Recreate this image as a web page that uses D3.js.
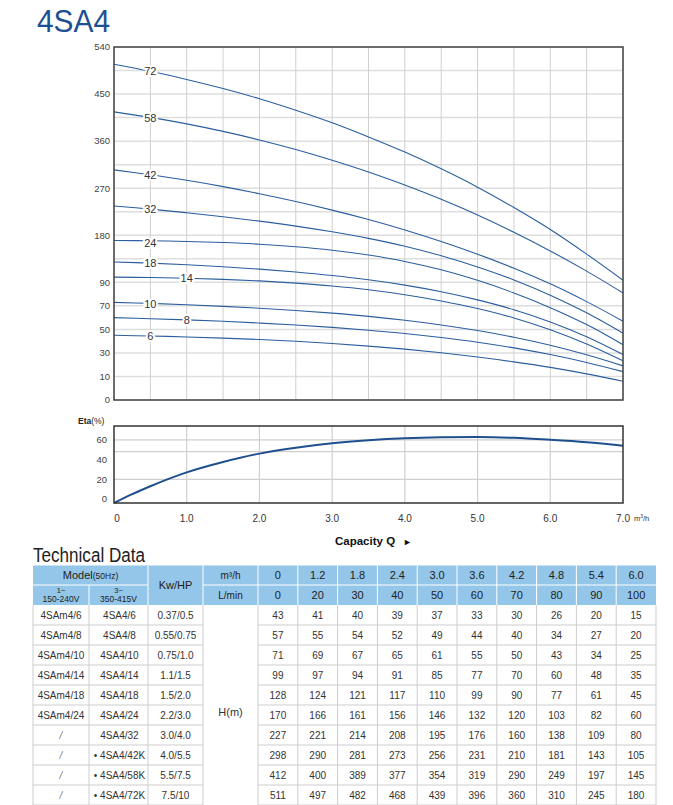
<!DOCTYPE html>
<html>
<head>
<meta charset="utf-8">
<script src="https://cdn.jsdelivr.net/npm/d3@7"></script>
<style>
  body { margin: 0; background: #fff; }
  text { font-family: "Liberation Sans", Arial, sans-serif; }
</style>
</head>
<body>
<div id="chart"></div>
<script>
// curve names (number of stages)
const stages = [72, 58, 42, 32, 24, 18, 14, 10, 8, 6];
// where the stage label sits on each curve (m3/h)
const labelAt = [0.5, 0.5, 0.5, 0.5, 0.5, 0.5, 1.0, 0.5, 1.0, 0.5];

// flow points of the head curves, m3/h
const flow = [0, 0.5, 1, 1.5, 2, 2.5, 3, 3.5, 4, 4.5, 5, 5.5, 6, 6.5, 7];
// head (m)
const head72 = [507, 493.5, 478, 460.5, 441, 419, 395, 368, 339, 307, 272, 233, 191, 144, 94];
const head58 = [416, 405.4, 393, 378.6, 362.3, 344, 323.5, 301, 276, 248.7, 218.7, 185.8, 150, 111.4, 81];
const head42 = [305, 295.6, 285.1, 273, 259.4, 244.5, 228.1, 210.1, 190.2, 168.2, 143.9, 117, 88.7, 73.6, 57];
const head32 = [236, 230, 223, 215.4, 207, 197.5, 186.6, 174, 159, 140.9, 119.4, 94.6, 79.1, 64.1, 46.8];
const head24 = [170, 169.4, 168.2, 166.1, 162.9, 158.1, 151.4, 142.2, 130, 113.9, 93.8, 81, 68.5, 54.1, 37];
const head18 = [129, 126.7, 123.6, 119.8, 115.2, 109.7, 103, 94.8, 87.6, 82, 75.1, 66.7, 56.3, 43.7, 28.6];
const head14 = [100, 99.2, 97.8, 95.7, 92.7, 89.3, 86.9, 83.7, 79.5, 74.2, 67.7, 59.7, 49.7, 37.6, 23.3];
const head10 = [73, 72.1, 71, 69.6, 68, 66.1, 63.8, 61.1, 57.8, 53.8, 49, 43.3, 36.5, 28.4, 19];
const head8  = [60, 59.1, 58.1, 56.9, 55.4, 53.7, 51.7, 49.3, 46.5, 43.1, 39.1, 34.3, 28.6, 21.9, 14.1];
const head6  = [45, 44.4, 43.6, 42.6, 41.4, 39.9, 38, 35.8, 33.2, 30.1, 26.5, 22.4, 17.7, 12.2, 8];
const heads = [head72, head58, head42, head32, head24, head18, head14, head10, head8, head6];

// efficiency curve
const etaFlow = [0, 0.25, 0.5, 1, 1.5, 2, 2.5, 3, 3.5, 4, 4.5, 5, 5.5, 6, 6.5, 7];
const etaValues = [-4, 5, 13, 27, 37.5, 46, 52, 56.5, 59.5, 61.5, 62.5, 62.8, 62, 60, 57.5, 54];

// axis ticks
const headTicks = [0, 10, 30, 50, 70, 90, 180, 270, 360, 450, 540];
const headGrid = [0, 10, 30, 50, 70, 90, 135, 180, 225, 270, 315, 360, 405, 450, 495, 540];
const flowGrid = d3.range(0, 7.01, 0.5);
const flowTicks = [0, 1, 2, 3, 4, 5, 6, 7];
const flowTickLabels = ["0", "1.0", "2.0", "3.0", "4.0", "5.0", "6.0", "7.0"];
const etaTicks = [0, 20, 40, 60];
const etaGrid = [20, 48, 60];

// technical data table
const flowM3h = ["0", "1.2", "1.8", "2.4", "3.0", "3.6", "4.2", "4.8", "5.4", "6.0"];
const flowLmin = ["0", "20", "30", "40", "50", "60", "70", "80", "90", "100"];
const models1 = ["4SAm4/6", "4SAm4/8", "4SAm4/10", "4SAm4/14", "4SAm4/18", "4SAm4/24", "/", "/", "/", "/"];
const models3 = ["4SA4/6", "4SA4/8", "4SA4/10", "4SA4/14", "4SA4/18", "4SA4/24", "4SA4/32", "• 4SA4/42K", "• 4SA4/58K", "• 4SA4/72K"];
const power = ["0.37/0.5", "0.55/0.75", "0.75/1.0", "1.1/1.5", "1.5/2.0", "2.2/3.0", "3.0/4.0", "4.0/5.5", "5.5/7.5", "7.5/10"];
const headTable = [
  [43, 41, 40, 39, 37, 33, 30, 26, 20, 15],
  [57, 55, 54, 52, 49, 44, 40, 34, 27, 20],
  [71, 69, 67, 65, 61, 55, 50, 43, 34, 25],
  [99, 97, 94, 91, 85, 77, 70, 60, 48, 35],
  [128, 124, 121, 117, 110, 99, 90, 77, 61, 45],
  [170, 166, 161, 156, 146, 132, 120, 103, 82, 60],
  [227, 221, 214, 208, 195, 176, 160, 138, 109, 80],
  [298, 290, 281, 273, 256, 231, 210, 181, 143, 105],
  [412, 400, 389, 377, 354, 319, 290, 249, 197, 145],
  [511, 497, 482, 468, 439, 396, 360, 310, 245, 180]
];

const width = 673, height = 805;
const blue = "#2b5e9e";

const svg = d3.select("#chart").append("svg")
    .attr("width", width)
    .attr("height", height);

// title
svg.append("text")
    .attr("x", 37).attr("y", 32)
    .attr("font-size", 31)
    .attr("textLength", 73).attr("lengthAdjust", "spacingAndGlyphs")
    .attr("fill", "#1d4f93")
    .text("4SA4");

// ---------- head chart ----------
const left = 114, right = 623;
const hTop = 47, hBottom = 400;
const hStep = (hBottom - hTop) / 15;

const x = d3.scaleLinear().domain([0, 7]).range([left, right]);
// broken scale: 0-10, 10-90 and 90-540 use different steps
const y = d3.scaleLinear()
    .domain([0, 10, 90, 540])
    .range([hBottom, hBottom - hStep, hBottom - 5 * hStep, hTop]);

const head = svg.append("g");

head.append("g")
  .selectAll("line")
  .data(headGrid)
  .join("line")
    .attr("x1", left).attr("x2", right)
    .attr("y1", d => y(d)).attr("y2", d => y(d))
    .attr("stroke", "#dedede")
    .attr("stroke-width", 1.5);

head.append("g")
  .selectAll("line")
  .data(flowGrid)
  .join("line")
    .attr("x1", d => x(d)).attr("x2", d => x(d))
    .attr("y1", hTop).attr("y2", hBottom)
    .attr("stroke", "#cfcfcf")
    .attr("stroke-width", 1);

head.append("g")
  .selectAll("text")
  .data(headTicks)
  .join("text")
    .attr("x", left - 4)
    .attr("y", d => y(d))
    .attr("dy", "0.35em")
    .attr("text-anchor", "end")
    .attr("font-size", 9.5)
    .attr("fill", "#444")
    .text(d => d);

const line = d3.line()
    .x(d => x(d[0]))
    .y(d => y(d[1]))
    .curve(d3.curveCatmullRom.alpha(0.5));

head.append("g")
  .selectAll("path")
  .data(heads)
  .join("path")
    .attr("d", h => line(flow.map((q, i) => [q, h[i]])))
    .attr("fill", "none")
    .attr("stroke", blue)
    .attr("stroke-width", 1.1);

head.append("g")
  .selectAll("text")
  .data(stages)
  .join("text")
    .attr("x", (d, i) => x(labelAt[i]))
    .attr("y", (d, i) => y(heads[i][flow.indexOf(labelAt[i])]))
    .attr("dy", (d, i) => d === 24 ? "0.6em" : "0.38em")
    .attr("text-anchor", "middle")
    .attr("font-family", "DejaVu Sans")
    .attr("font-size", 11)
    .attr("fill", "#333")
    .attr("stroke", "#fff")
    .attr("stroke-width", 4)
    .attr("paint-order", "stroke")
    .text(d => d);

head.append("rect")
    .attr("x", left).attr("y", hTop)
    .attr("width", right - left).attr("height", hBottom - hTop)
    .attr("fill", "none")
    .attr("stroke", "#444")
    .attr("stroke-width", 1.5);

// ---------- efficiency chart ----------
const eTop = 426, eBottom = 503;
const yEta = d3.scaleLinear().domain([-4, 74]).range([eBottom, eTop]);

const eff = svg.append("g");

eff.append("g")
  .selectAll("line")
  .data(etaGrid)
  .join("line")
    .attr("x1", left).attr("x2", right)
    .attr("y1", d => yEta(d)).attr("y2", d => yEta(d))
    .attr("stroke", "#cfcfcf")
    .attr("stroke-width", 1.2);

eff.append("g")
  .selectAll("line")
  .data(flowTicks.slice(1, -1))
  .join("line")
    .attr("x1", d => x(d)).attr("x2", d => x(d))
    .attr("y1", eTop).attr("y2", eBottom)
    .attr("stroke", "#cfcfcf")
    .attr("stroke-width", 1.2);

eff.append("g")
  .selectAll("text")
  .data(etaTicks)
  .join("text")
    .attr("x", left - 7)
    .attr("y", d => yEta(d))
    .attr("dy", "0.35em")
    .attr("text-anchor", "end")
    .attr("font-size", 9.5)
    .attr("fill", "#444")
    .text(d => d);

eff.append("path")
    .attr("d", d3.line()
        .x((q) => x(q))
        .y((q, i) => yEta(etaValues[i]))
        .curve(d3.curveMonotoneX)(etaFlow))
    .attr("fill", "none")
    .attr("stroke", "#1f4f8f")
    .attr("stroke-width", 2);

eff.append("rect")
    .attr("x", left).attr("y", eTop)
    .attr("width", right - left).attr("height", eBottom - eTop)
    .attr("fill", "none")
    .attr("stroke", "#333")
    .attr("stroke-width", 1.5);

const etaLabel = eff.append("text")
    .attr("x", 78).attr("y", 424)
    .attr("font-size", 8.5)
    .attr("fill", "#222");
etaLabel.append("tspan").attr("font-weight", "bold").text("Eta");
etaLabel.append("tspan").text("(%)");

eff.append("g")
  .selectAll("text")
  .data(flowTicks)
  .join("text")
    .attr("x", d => x(d) + (d === 0 ? 3 : 0))
    .attr("y", 522)
    .attr("text-anchor", "middle")
    .attr("font-size", 10)
    .attr("fill", "#333")
    .text((d, i) => flowTickLabels[i]);

const unit = eff.append("text")
    .attr("x", x(7) + 11).attr("y", 521)
    .attr("font-size", 7.5)
    .attr("fill", "#333");
unit.append("tspan").text("m");
unit.append("tspan").attr("dy", -3).attr("font-size", 5).text("3");
unit.append("tspan").attr("dy", 3).text("/h");

eff.append("text")
    .attr("x", 335).attr("y", 545)
    .attr("font-size", 11.5)
    .attr("font-weight", "bold")
    .attr("fill", "#111")
    .text("Capacity Q");
eff.append("text")
    .attr("x", 403).attr("y", 545)
    .attr("font-size", 9)
    .attr("fill", "#111")
    .text("►");

// ---------- technical data table ----------
svg.append("text")
    .attr("x", 33).attr("y", 562)
    .attr("font-size", 19.5)
    .attr("textLength", 112).attr("lengthAdjust", "spacingAndGlyphs")
    .attr("fill", "#222")
    .text("Technical Data");

const tLeft = 33, tRight = 656;
const colEdges = [tLeft, 89, 148, 203, 258];
const hdTop = 565.5, hdMid = 585, hdBottom = 605;
const dataCol = d3.scaleBand().domain(d3.range(10)).range([258, tRight]);
const row = d3.scaleBand().domain(d3.range(10)).range([hdBottom, hdBottom + 200]);
const mid = i => (colEdges[i] + colEdges[i + 1]) / 2;

const table = svg.append("g");

// header block
table.append("rect")
    .attr("x", tLeft).attr("y", hdTop)
    .attr("width", tRight - tLeft).attr("height", hdBottom - hdTop)
    .attr("fill", "#93c6e8");

const hdrLines = table.append("g").attr("stroke", "#fff").attr("stroke-width", 1);
hdrLines.append("line").attr("x1", tLeft).attr("x2", colEdges[2]).attr("y1", hdMid).attr("y2", hdMid);
hdrLines.append("line").attr("x1", colEdges[3]).attr("x2", tRight).attr("y1", hdMid).attr("y2", hdMid);
hdrLines.append("line").attr("x1", colEdges[1]).attr("x2", colEdges[1]).attr("y1", hdMid).attr("y2", hdBottom);
hdrLines.selectAll(".v")
  .data([colEdges[2], colEdges[3]].concat(d3.range(10).map(i => dataCol(i))))
  .join("line")
    .attr("x1", d => d).attr("x2", d => d)
    .attr("y1", hdTop).attr("y2", hdBottom);

const hdr = table.append("g").attr("fill", "#222").attr("text-anchor", "middle");
const model = hdr.append("text")
    .attr("x", (colEdges[0] + colEdges[2]) / 2).attr("y", 579)
    .attr("font-size", 11);
model.append("tspan").text("Model");
model.append("tspan").attr("font-size", 8.5).text("(50Hz)");

hdr.append("text").attr("x", mid(0)).attr("y", 593).attr("font-size", 7.5).text("1~");
hdr.append("text").attr("x", mid(0)).attr("y", 602).attr("font-size", 8.5).text("150-240V");
hdr.append("text").attr("x", mid(1)).attr("y", 593).attr("font-size", 7.5).text("3~");
hdr.append("text").attr("x", mid(1)).attr("y", 602).attr("font-size", 8.5).text("350-415V");
hdr.append("text").attr("x", mid(2)).attr("y", 589).attr("font-size", 11).text("Kw/HP");
hdr.append("text").attr("x", mid(3)).attr("y", 579).attr("font-size", 10).text("m³/h");
hdr.append("text").attr("x", mid(3)).attr("y", 599).attr("font-size", 10).text("L/min");

hdr.selectAll(".q")
  .data(flowM3h)
  .join("text")
    .attr("x", (d, i) => dataCol(i) + dataCol.bandwidth() / 2)
    .attr("y", 579)
    .attr("font-size", 11)
    .text(d => d);
hdr.selectAll(".l")
  .data(flowLmin)
  .join("text")
    .attr("x", (d, i) => dataCol(i) + dataCol.bandwidth() / 2)
    .attr("y", 599)
    .attr("font-size", 11)
    .text(d => d);

// body grid
const grid = table.append("g").attr("stroke", "#cdcdcd").attr("stroke-width", 1);
grid.selectAll(".h1")
  .data(d3.range(1, 11))
  .join("line")
    .attr("x1", tLeft).attr("x2", colEdges[3])
    .attr("y1", i => hdBottom + i * row.bandwidth())
    .attr("y2", i => hdBottom + i * row.bandwidth());
grid.selectAll(".h2")
  .data(d3.range(1, 11))
  .join("line")
    .attr("x1", colEdges[4]).attr("x2", tRight)
    .attr("y1", i => hdBottom + i * row.bandwidth())
    .attr("y2", i => hdBottom + i * row.bandwidth());
grid.selectAll(".v")
  .data(colEdges.concat(d3.range(1, 10).map(i => dataCol(i)), [tRight]))
  .join("line")
    .attr("x1", d => d).attr("x2", d => d)
    .attr("y1", hdBottom).attr("y2", height);

// body text
const body = table.append("g")
    .attr("fill", "#333")
    .attr("font-size", 10)
    .attr("text-anchor", "middle");

const rowY = i => row(i) + row.bandwidth() / 2 + 4;
body.selectAll(".m1").data(models1).join("text")
    .attr("x", mid(0)).attr("y", (d, i) => rowY(i))
    .attr("fill", d => d === "/" ? "#777" : null)
    .attr("font-style", d => d === "/" ? "italic" : null)
    .text(d => d);
body.selectAll(".m3").data(models3).join("text")
    .attr("x", mid(1) + 1).attr("y", (d, i) => rowY(i))
    .text(d => d);
body.selectAll(".p").data(power).join("text")
    .attr("x", mid(2)).attr("y", (d, i) => rowY(i))
    .text(d => d);
body.append("text")
    .attr("x", mid(3)).attr("y", rowY(5) - 3)
    .attr("font-size", 11)
    .text("H(m)");

body.selectAll("g.r")
  .data(headTable)
  .join("g")
  .each(function (r, i) {
    d3.select(this).selectAll("text")
      .data(r)
      .join("text")
        .attr("x", (d, j) => dataCol(j) + dataCol.bandwidth() / 2)
        .attr("y", rowY(i))
        .text(d => d);
  });
</script>
</body>
</html>
